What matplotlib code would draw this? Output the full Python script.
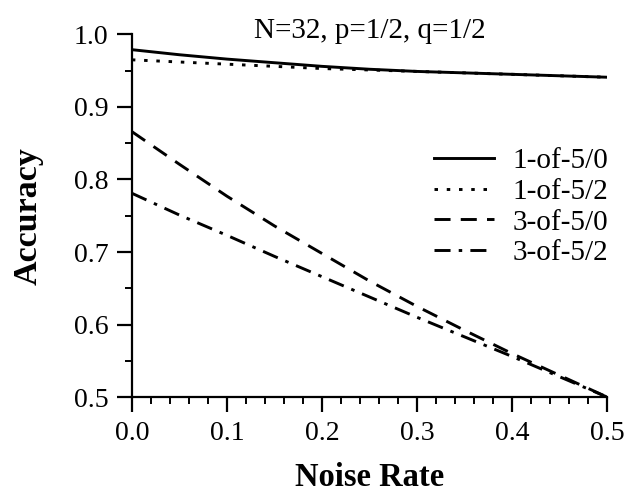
import matplotlib
matplotlib.use("Agg")
import matplotlib.pyplot as plt
from matplotlib.ticker import MultipleLocator, FormatStrFormatter

plt.rcParams['font.family'] = ['Liberation Serif', 'DejaVu Serif']

noise = [0.0, 0.05, 0.1, 0.15, 0.2, 0.25, 0.3, 0.35, 0.4, 0.45, 0.5]
acc_1of5_0 = [0.979, 0.972, 0.966, 0.961, 0.956, 0.952, 0.949, 0.947, 0.945, 0.943, 0.941]
acc_1of5_2 = [0.965, 0.962, 0.959, 0.956, 0.953, 0.951, 0.949, 0.947, 0.945, 0.943, 0.941]
acc_3of5_0 = [0.866, 0.821, 0.777, 0.736, 0.698, 0.660, 0.625, 0.592, 0.560, 0.530, 0.500]
acc_3of5_2 = [0.781, 0.751, 0.723, 0.694, 0.666, 0.638, 0.610, 0.583, 0.556, 0.528, 0.500]
labels = ['1-of-5/0', '1-of-5/2', '3-of-5/0', '3-of-5/2']
title = 'N=32, p=1/2, q=1/2'

fig = plt.figure(figsize=(6.37, 4.92), dpi=100)
ax = fig.add_axes([0.207, 0.193, 0.746, 0.737])

lw = 2.1
ax.plot(noise, acc_1of5_0, color='black', lw=lw, linestyle='-', label=labels[0])
ax.plot(noise, acc_1of5_2, color='black', lw=lw, linestyle=(0, (1.2, 3.0)), label=labels[1])
ax.plot(noise, acc_3of5_0, color='black', lw=lw, linestyle=(0, (5.5, 3.5)), label=labels[2])
ax.plot(noise, acc_3of5_2, color='black', lw=lw, linestyle=(0, (5.5, 2.8, 1.2, 2.8)), label=labels[3])

ax.set_xlim(0, 0.5)
ax.set_ylim(0.5, 1.0)
ax.xaxis.set_major_locator(MultipleLocator(0.1))
ax.xaxis.set_minor_locator(MultipleLocator(0.02))
ax.yaxis.set_major_locator(MultipleLocator(0.1))
ax.yaxis.set_minor_locator(MultipleLocator(0.05))
ax.xaxis.set_major_formatter(FormatStrFormatter('%.1f'))
ax.yaxis.set_major_formatter(FormatStrFormatter('%.1f'))

for s in ['top', 'right']:
    ax.spines[s].set_visible(False)
for s in ['left', 'bottom']:
    ax.spines[s].set_linewidth(1.6)

ax.tick_params(which='major', direction='out', length=11, width=1.6, labelsize=20, pad=6)
ax.tick_params(which='minor', direction='out', length=5, width=1.4)

ax.set_xlabel('Noise Rate', fontsize=23.5, fontweight='bold', va='center')
ax.set_ylabel('Accuracy', fontsize=24.5, fontweight='bold', va='center')
ax.xaxis.set_label_coords(0.5, -0.221)
ax.yaxis.set_label_coords(-0.219, 0.5)
ax.text(0.5, 0.99, title, transform=ax.transAxes, ha='center', va='baseline', fontsize=21)

leg = ax.legend(loc='center right', bbox_to_anchor=(1.027, 0.524), frameon=False,
                fontsize=21, handlelength=2.07, handletextpad=0.62, labelspacing=0.15,
                borderaxespad=0)

fig.savefig('out.png', dpi=100)
